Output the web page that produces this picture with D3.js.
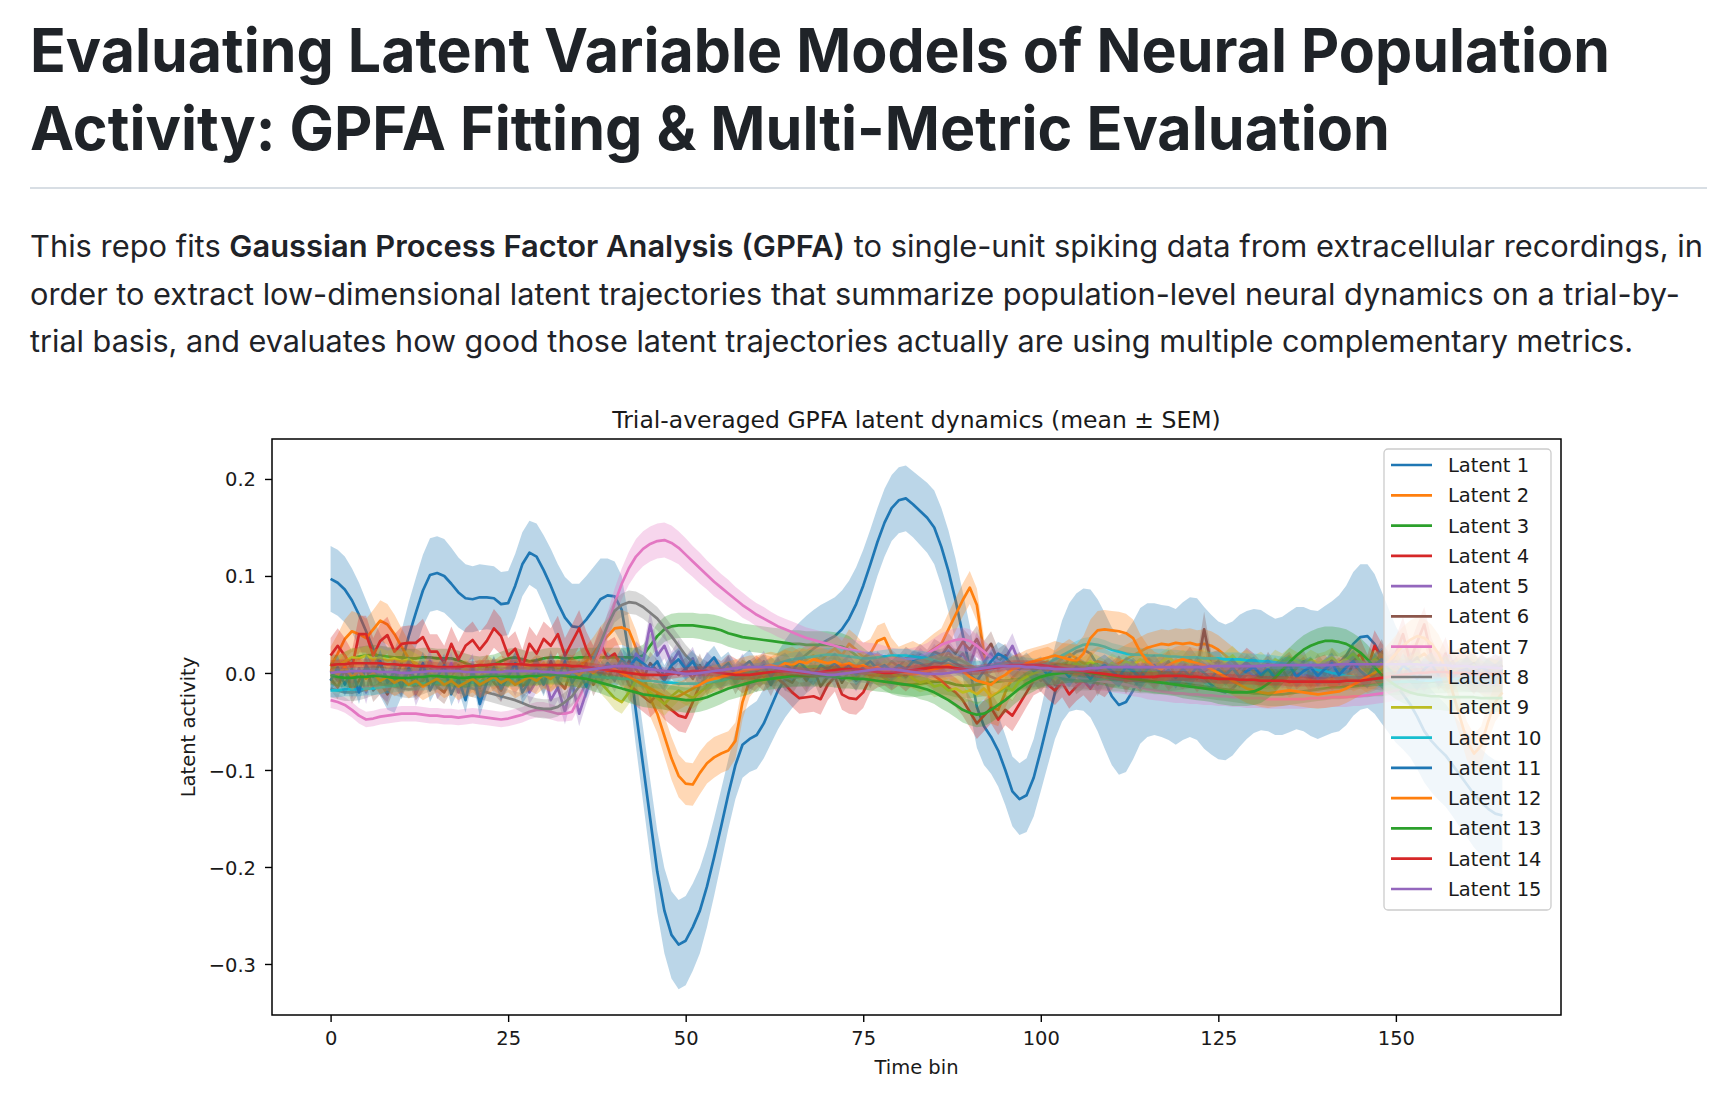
<!DOCTYPE html>
<html><head><meta charset="utf-8">
<script src="https://cdn.jsdelivr.net/npm/d3@7/dist/d3.min.js"></script>
<style>
html,body{margin:0;padding:0;background:#fff;}
svg{display:block;}
</style></head><body>
<svg id="page" width="1730" height="1096"></svg>
<script>
// ---------------- DATA ----------------
const latentNames = ["Latent 1","Latent 2","Latent 3","Latent 4","Latent 5","Latent 6","Latent 7","Latent 8","Latent 9","Latent 10","Latent 11","Latent 12","Latent 13","Latent 14","Latent 15"];
const xTicks = [0,25,50,75,100,125,150];
const yTicks = [-0.3,-0.2,-0.1,0.0,0.1,0.2];
const yTickLabels = ["\u22120.3","\u22120.2","\u22120.1","0.0","0.1","0.2"];

const latent1 = [.097,.093,.086,.075,.06,.043,.025,.008,-.006,-.008,
.01,.038,.062,.085,.101,.103,.1,.092,.083,.077,
.076,.078,.078,.077,.071,.072,.09,.112,.124,.12,
.106,.09,.072,.057,.048,.047,.055,.065,.076,.08,
.079,.065,.02,-.04,-.095,-.15,-.205,-.245,-.27,-.28,
-.276,-.262,-.245,-.22,-.19,-.158,-.125,-.095,-.074,-.068,
-.064,-.052,-.035,-.018,-.006,.004,.012,.019,.025,.03,
.034,.038,.045,.056,.071,.09,.112,.135,.155,.17,
.178,.18,.174,.167,.16,.15,.13,.105,.075,.04,
.005,-.035,-.055,-.066,-.08,-.1,-.122,-.13,-.126,-.108,
-.08,-.05,-.02,.002,.016,.022,.024,.02,.008,-.008,
-.024,-.033,-.03,-.018,-.003,.003,.004,.002,0,-.004,
.002,.006,.004,-.005,-.012,-.018,-.02,-.016,-.008,-.002,
.002,.003,0,-.004,-.003,.001,.005,.004,0,-.002,
.002,.006,.01,.018,.03,.037,.038,.03,.016,.002,
-.012,-.022,-.032,-.045,-.06,-.07,-.078,-.085,-.095,-.105,
-.115,-.125,-.133,-.14,-.145,-.147];
const sem1 = [.034,.034,.034,.033,.033,.032,.032,.032,.032,.033,
.034,.035,.036,.037,.038,.038,.038,.037,.036,.035,
.034,.034,.033,.033,.033,.033,.033,.033,.033,.034,
.036,.038,.04,.042,.044,.045,.045,.044,.042,.038,
.036,.035,.035,.036,.038,.04,.042,.044,.045,.046,
.046,.045,.044,.042,.04,.038,.036,.035,.034,.034,
.035,.036,.038,.04,.04,.04,.04,.04,.04,.04,
.04,.04,.04,.039,.038,.037,.036,.035,.035,.034,
.034,.034,.034,.035,.036,.038,.04,.042,.043,.044,
.044,.042,.04,.038,.037,.036,.036,.037,.038,.04,
.042,.045,.048,.052,.056,.06,.063,.066,.068,.07,
.071,.072,.072,.071,.07,.069,.068,.068,.069,.07,
.071,.072,.073,.073,.072,.071,.07,.069,.068,.066,
.064,.062,.06,.06,.061,.062,.063,.064,.065,.066,
.067,.068,.07,.072,.074,.075,.074,.072,.068,.064,
.06,.057,.055,.054,.053,.053,.053,.053,.053,.054,
.054,.055,.055,.055,.055,.055];

const latent2 = [.007,.02,.035,.043,.04,.036,.045,.054,.05,.04,
.027,.015,.008,.005,-.002,.003,-.005,.002,-.006,-.008,
-.01,-.004,.004,-.002,.003,0,-.005,.002,-.003,.004,
0,-.004,.002,.006,.003,.008,.012,.02,.03,.038,
.046,.047,.044,.026,0,-.026,-.042,-.065,-.088,-.106,
-.114,-.115,-.103,-.093,-.087,-.083,-.08,-.07,-.03,-.008,
0,.004,.002,.006,.01,.012,.008,.014,.018,.012,
.02,.025,.018,.03,.024,.016,.02,.033,.036,.02,
.012,.015,.018,.014,.02,.025,.03,.045,.06,.075,
.088,.07,.02,-.035,-.038,-.02,-.005,.002,.004,.008,
.01,.012,.008,.015,.02,.015,.01,.008,.012,.01,
.006,.01,.014,.018,.022,.026,.028,.03,.029,.031,
.03,.031,.029,.03,.028,.024,.018,.012,.006,0,
-.004,-.006,-.004,-.008,-.005,-.01,-.006,-.003,-.008,-.005,
-.002,-.006,-.003,.002,-.004,0,-.005,-.002,.003,-.003,
.002,.006,.01,.015,.02,.012,.005,-.002,.004,.008,
.006,.002,-.004,-.01,-.008,-.004];
const sem2 = [.02,.02,.02,.021,.021,.02,.02,.021,.021,.02,
.019,.018,.017,.016,.016,.015,.015,.015,.015,.015,
.015,.015,.015,.015,.015,.015,.015,.015,.015,.015,
.015,.015,.015,.015,.015,.015,.016,.017,.018,.018,
.018,.018,.018,.018,.018,.019,.02,.021,.022,.022,
.022,.022,.022,.021,.021,.02,.02,.019,.018,.017,
.016,.015,.015,.015,.015,.015,.015,.015,.015,.015,
.015,.015,.015,.015,.015,.015,.015,.016,.016,.016,
.015,.015,.015,.015,.015,.016,.016,.017,.017,.017,
.017,.017,.017,.017,.017,.016,.016,.015,.015,.015,
.015,.015,.015,.015,.015,.015,.015,.015,.015,.015,
.015,.015,.015,.015,.015,.015,.015,.015,.015,.015,
.015,.015,.015,.015,.015,.015,.015,.015,.015,.015,
.015,.015,.015,.015,.015,.015,.015,.015,.015,.015,
.015,.015,.015,.015,.015,.016,.016,.016,.017,.017,
.017,.018,.018,.018,.018,.018,.018,.018,.018,.018,
.018,.018,.018,.018,.018,.018];

const latent3 = [.01,.008,.012,.015,.017,.018,.019,.018,.017,.016,
.016,.015,.015,.016,.016,.015,.015,.015,.013,.01,
.008,.007,.008,.009,.012,.015,.016,.014,.012,.013,
.015,.016,.016,.015,.015,.016,.016,.016,.016,.016,
.016,.016,.016,.016,.018,.028,.038,.045,.048,.049,
.049,.049,.048,.047,.046,.044,.041,.039,.037,.036,
.035,.034,.033,.032,.031,.03,.03,.029,.029,.029,
.029,.028,.027,.024,.018,.012,.006,0,-.005,-.009,
-.011,-.012,-.012,-.011,-.01,-.009,-.009,-.01,-.012,-.013,
-.013,-.012,-.011,-.01,-.009,-.008,-.007,-.006,-.006,-.005,
-.004,-.003,-.002,-.002,-.002,-.003,-.004,-.005,-.006,-.006,
-.007,-.007,-.008,-.008,-.009,-.009,-.01,-.01,-.01,-.011,
-.011,-.012,-.013,-.014,-.015,-.016,-.017,-.018,-.019,-.02,
-.021,-.021,-.022,-.022,-.022,-.021,-.02,-.019,-.018,-.017,
-.016,-.015,-.015,-.014,-.014,-.013,-.013,-.012,-.012,-.011,
-.011,-.01,-.01,-.01,-.01,-.009,-.009,-.009,-.008,-.008,
-.008,-.008,-.008,-.008,-.008,-.008];
const sem3 = [.01,.01,.01,.01,.01,.01,.01,.01,.01,.01,
.01,.01,.01,.01,.01,.01,.01,.01,.01,.01,
.01,.01,.01,.01,.01,.01,.01,.01,.01,.01,
.01,.01,.01,.01,.01,.01,.01,.01,.01,.01,
.01,.01,.01,.01,.011,.012,.013,.013,.013,.013,
.013,.013,.013,.014,.014,.014,.014,.014,.014,.014,
.014,.014,.014,.014,.014,.014,.014,.014,.014,.014,
.014,.014,.014,.014,.014,.014,.014,.013,.013,.013,
.013,.013,.013,.013,.013,.013,.013,.013,.013,.013,
.013,.013,.013,.013,.012,.012,.012,.012,.012,.012,
.012,.012,.012,.012,.012,.012,.012,.012,.012,.012,
.012,.012,.012,.012,.012,.012,.012,.012,.012,.012,
.012,.012,.012,.012,.012,.012,.012,.012,.012,.012,
.012,.012,.012,.012,.012,.012,.012,.012,.012,.012,
.012,.012,.012,.012,.012,.012,.012,.012,.012,.012,
.012,.012,.012,.012,.012,.012,.012,.012,.012,.012,
.012,.012,.012,.012,.012,.012];

const latent4 = [.018,.028,.018,.005,.04,.04,.018,.033,.039,.022,
.03,.031,.031,.037,.022,.022,.01,.03,.014,.028,
.034,.024,.033,.046,.038,.018,.025,.006,.03,.02,
.035,.028,.04,.018,.032,.046,.025,.01,.03,.015,
.02,.006,-.012,-.018,-.024,-.03,-.022,-.032,-.038,-.044,
-.046,-.03,-.012,-.004,.002,-.003,.004,0,-.006,-.002,
.003,-.004,.002,-.006,-.012,-.02,-.026,-.025,-.024,-.027,
-.012,-.004,-.022,-.026,-.027,-.02,-.005,0,.002,-.003,
.002,-.004,.003,.006,.002,-.003,-.008,-.015,-.02,-.028,
-.04,-.052,-.044,-.036,-.048,-.038,-.044,-.032,-.02,-.008,
-.004,-.012,-.018,-.01,-.022,-.014,-.008,-.016,-.006,-.01,
-.002,.004,-.004,.002,-.006,.003,-.002,.005,-.004,.002,
-.003,.004,-.006,.002,.006,-.004,.003,-.005,.004,.012,
.006,-.002,.004,-.004,.002,.008,-.003,.003,-.006,.002,
.005,-.004,.002,.006,.012,.02,.004,.028,.015,.006,
.02,.04,.012,.032,.05,.018,.004,.02,-.004,.006,
.002,-.006,.004,-.002,.003,0];
const sem4 = [.018,.018,.018,.018,.019,.019,.018,.018,.019,.018,
.018,.018,.018,.019,.018,.018,.018,.018,.018,.018,
.019,.018,.018,.02,.019,.018,.018,.018,.018,.018,
.018,.018,.019,.018,.018,.019,.018,.018,.018,.018,
.017,.016,.016,.016,.016,.016,.016,.016,.016,.016,
.016,.016,.015,.015,.015,.015,.015,.015,.015,.015,
.015,.015,.015,.015,.015,.015,.016,.016,.016,.016,
.016,.015,.016,.016,.016,.016,.015,.015,.015,.015,
.015,.015,.015,.015,.015,.015,.015,.015,.015,.016,
.016,.016,.016,.016,.016,.016,.016,.016,.015,.015,
.015,.015,.015,.015,.015,.015,.015,.015,.015,.015,
.014,.014,.014,.014,.014,.014,.014,.014,.014,.014,
.014,.014,.014,.014,.014,.014,.014,.014,.014,.014,
.014,.014,.014,.014,.014,.014,.014,.014,.014,.014,
.014,.014,.014,.014,.015,.015,.015,.016,.016,.016,
.017,.018,.018,.018,.018,.018,.017,.017,.016,.016,
.016,.016,.016,.016,.016,.016];

const latent5 = [.002,-.008,.01,-.015,.005,-.02,.008,-.012,-.018,.004,
-.01,.006,-.022,-.005,.012,-.015,-.006,.01,-.02,-.004,
.008,-.025,-.01,.005,-.018,.002,-.012,.006,-.02,-.008,
.004,-.028,-.015,-.04,-.01,-.042,-.02,.002,-.01,.005,
-.008,.01,-.005,.02,.012,.05,.018,.028,.01,.022,
.005,.015,-.005,.01,.002,-.008,.006,-.004,.008,-.01,
.002,.012,-.004,.006,-.008,.003,.01,-.006,.004,-.002,
.008,-.005,.01,.002,-.008,.005,-.003,.012,.004,-.006,
.006,.01,.002,.015,.008,.018,.01,.022,.012,.02,
.008,.03,.012,.02,.004,.015,.028,.01,.002,-.004,
.004,-.006,.002,.008,-.002,.006,-.004,.003,-.008,.002,
.006,-.003,.004,-.006,.002,.008,-.002,.004,-.005,.003,
-.002,.006,-.004,.003,.008,-.003,.005,-.006,.002,.007,
-.004,.004,-.002,.006,-.005,.003,.008,-.002,.004,-.006,
.003,.008,-.003,.005,.012,-.004,.006,.002,-.005,.008,
.004,-.006,.01,.002,-.008,.006,-.002,.012,.003,-.004,
.006,.002,-.005,.004,.008,.001];
const sem5 = [.012,.012,.012,.012,.012,.012,.012,.012,.012,.012,
.012,.012,.012,.012,.012,.012,.012,.012,.012,.012,
.012,.012,.012,.012,.012,.012,.012,.012,.012,.012,
.012,.013,.013,.013,.013,.013,.012,.012,.012,.012,
.012,.012,.012,.013,.013,.014,.013,.013,.012,.012,
.012,.012,.012,.012,.012,.012,.012,.012,.012,.012,
.011,.011,.011,.011,.011,.011,.011,.011,.011,.011,
.011,.011,.011,.011,.011,.011,.011,.011,.011,.011,
.011,.011,.011,.011,.011,.012,.012,.012,.012,.012,
.012,.013,.012,.012,.012,.012,.013,.012,.012,.011,
.011,.011,.011,.011,.011,.011,.011,.011,.011,.011,
.011,.011,.011,.011,.011,.011,.011,.011,.011,.011,
.011,.011,.011,.011,.011,.011,.011,.011,.011,.011,
.011,.011,.011,.011,.011,.011,.011,.011,.011,.011,
.011,.011,.011,.011,.012,.012,.012,.012,.012,.012,
.012,.012,.012,.012,.012,.012,.012,.012,.012,.012,
.012,.012,.012,.012,.012,.012];

const latent6 = [-.006,-.015,.004,-.02,-.008,.006,-.018,-.01,-.022,-.004,
-.012,.002,-.016,-.008,.004,-.014,-.02,-.006,.008,-.012,
-.004,-.016,.006,-.01,-.018,-.002,.01,-.014,-.006,.004,
-.01,.012,-.008,-.016,.006,-.004,.01,-.012,.002,-.006,
.008,-.004,.012,.004,-.006,.01,.002,-.008,.006,-.002,
.004,-.006,.008,-.012,.002,-.004,.006,-.01,.002,-.004,
-.008,.002,-.012,.004,-.006,-.01,.002,-.008,.004,-.014,
-.004,.006,-.01,.002,-.006,.008,-.004,.01,.004,.012,
.006,.015,.01,.018,.012,.022,.018,.028,.02,.032,
.024,.035,.02,.03,.012,.018,.004,.01,-.004,.002,
-.008,.004,-.012,-.002,.006,-.01,-.004,.008,-.012,.002,
-.006,.006,-.01,.004,-.004,.01,-.008,.002,.012,-.004,
.006,.014,.004,.045,.008,.012,-.002,.006,-.004,.008,
.002,-.006,.01,-.002,.004,-.008,.006,.012,-.004,.008,
-.002,.014,.004,-.006,.01,.002,-.004,.008,.022,.006,
.012,-.004,.008,.016,.002,.01,-.006,.004,.012,-.002,
.006,.01,-.004,.004,.002,.008];
const sem6 = [.012,.012,.012,.012,.012,.012,.012,.012,.012,.012,
.012,.012,.012,.012,.012,.012,.012,.012,.012,.012,
.012,.012,.012,.012,.012,.012,.012,.012,.012,.012,
.012,.012,.012,.012,.012,.012,.012,.012,.012,.012,
.012,.012,.012,.012,.012,.012,.012,.012,.012,.012,
.012,.012,.012,.012,.012,.012,.012,.012,.012,.012,
.012,.012,.012,.012,.012,.012,.012,.012,.012,.012,
.012,.012,.012,.012,.012,.012,.012,.012,.012,.012,
.012,.012,.012,.012,.012,.013,.013,.013,.013,.014,
.014,.014,.013,.013,.013,.012,.012,.012,.012,.012,
.012,.012,.012,.012,.012,.012,.012,.012,.012,.012,
.012,.012,.012,.012,.012,.012,.012,.012,.012,.012,
.012,.013,.013,.018,.013,.012,.012,.012,.012,.012,
.012,.012,.012,.012,.012,.012,.012,.012,.012,.012,
.012,.012,.012,.012,.012,.012,.012,.012,.013,.012,
.012,.012,.012,.012,.012,.012,.012,.012,.012,.012,
.012,.012,.012,.012,.012,.012];

const latent7 = [-.028,-.03,-.033,-.038,-.044,-.048,-.047,-.045,-.044,-.043,
-.042,-.042,-.042,-.043,-.044,-.044,-.045,-.045,-.046,-.045,
-.044,-.045,-.046,-.047,-.048,-.047,-.045,-.043,-.04,-.038,
-.038,-.04,-.042,-.042,-.04,-.025,-.01,.005,.022,.048,
.072,.092,.108,.12,.128,.133,.136,.137,.134,.129,
.122,.115,.108,.101,.094,.088,.082,.076,.07,.065,
.06,.056,.052,.048,.045,.042,.039,.036,.034,.032,
.03,.028,.026,.024,.023,.021,.02,.019,.017,.015,
.014,.014,.015,.017,.02,.024,.029,.032,.034,.035,
.033,.028,.022,.016,.012,.008,.005,.003,.002,.001,
0,-.001,-.002,-.003,-.004,-.005,-.006,-.007,-.008,-.009,
-.01,-.011,-.012,-.014,-.015,-.017,-.018,-.019,-.02,-.021,
-.021,-.022,-.022,-.023,-.023,-.024,-.024,-.025,-.025,-.026,
-.026,-.026,-.027,-.027,-.027,-.027,-.027,-.027,-.026,-.026,
-.026,-.025,-.025,-.025,-.024,-.024,-.023,-.022,-.021,-.02,
-.018,-.015,-.01,-.004,.002,.006,.008,.006,.002,-.002,
-.006,-.008,-.01,-.011,-.012,-.012];
const sem7 = [.008,.008,.008,.008,.008,.008,.008,.008,.008,.008,
.008,.008,.008,.008,.008,.008,.008,.008,.008,.008,
.008,.008,.008,.008,.008,.008,.008,.008,.008,.008,
.008,.008,.008,.008,.009,.01,.011,.012,.013,.014,
.015,.016,.017,.018,.018,.018,.018,.018,.018,.017,
.017,.016,.016,.015,.015,.014,.014,.013,.013,.012,
.012,.012,.011,.011,.011,.011,.011,.011,.011,.011,
.011,.011,.011,.011,.011,.011,.011,.011,.011,.011,
.011,.011,.011,.011,.011,.012,.012,.012,.012,.012,
.012,.012,.011,.011,.011,.01,.01,.01,.01,.01,
.01,.01,.01,.01,.01,.01,.01,.01,.01,.01,
.01,.01,.01,.01,.01,.01,.01,.01,.01,.01,
.01,.01,.01,.01,.01,.01,.01,.01,.01,.01,
.01,.01,.01,.01,.01,.01,.01,.01,.01,.01,
.01,.01,.01,.01,.01,.01,.01,.01,.01,.01,
.011,.012,.013,.014,.015,.015,.014,.013,.012,.011,
.011,.011,.011,.011,.011,.011];

const latent8 = [-.016,-.018,-.02,-.02,-.019,-.017,-.014,-.012,-.012,-.014,
-.016,-.017,-.016,-.013,-.01,-.008,-.008,-.01,-.012,-.014,
-.016,-.018,-.02,-.022,-.024,-.026,-.028,-.031,-.034,-.036,
-.037,-.037,-.035,-.03,-.024,-.014,-.002,.015,.031,.049,
.064,.07,.073,.072,.068,.062,.056,.047,.038,.028,
.018,.011,.006,.002,-.001,-.003,-.004,-.005,-.004,-.003,
-.002,-.002,-.003,-.004,-.005,-.005,-.004,-.003,-.002,-.001,
0,.001,.002,.002,.001,0,-.001,-.002,-.003,-.003,
-.002,0,.003,.006,.01,.013,.015,.016,.015,.012,
.008,.004,0,-.004,-.007,-.008,-.008,-.007,-.006,-.005,
-.004,-.004,-.005,-.006,-.007,-.008,-.008,-.008,-.007,-.006,
-.005,-.004,-.004,-.005,-.006,-.007,-.008,-.009,-.009,-.008,
-.007,-.006,-.005,-.004,-.004,-.005,-.006,-.007,-.008,-.008,
-.008,-.007,-.006,-.005,-.005,-.006,-.007,-.008,-.009,-.01,
-.01,-.01,-.009,-.008,-.007,-.006,-.006,-.007,-.008,-.009,
-.01,-.01,-.009,-.008,-.007,-.006,-.006,-.006,-.007,-.008,
-.009,-.01,-.01,-.01,-.01,-.01];
const sem8 = [.009,.009,.009,.009,.009,.009,.009,.009,.009,.009,
.009,.009,.009,.009,.009,.009,.009,.009,.009,.009,
.009,.009,.009,.009,.009,.009,.009,.01,.01,.01,
.01,.01,.01,.01,.01,.011,.011,.012,.012,.012,
.012,.012,.012,.012,.012,.012,.012,.012,.011,.011,
.011,.01,.01,.01,.01,.01,.01,.01,.01,.01,
.01,.01,.01,.01,.01,.01,.01,.01,.01,.01,
.01,.01,.01,.01,.01,.01,.01,.01,.01,.01,
.01,.01,.01,.01,.01,.01,.01,.01,.01,.01,
.01,.01,.01,.01,.01,.01,.01,.01,.01,.01,
.01,.01,.01,.01,.01,.01,.01,.01,.01,.01,
.01,.01,.01,.01,.01,.01,.01,.01,.01,.01,
.01,.01,.01,.01,.01,.01,.01,.01,.01,.01,
.01,.01,.01,.01,.01,.01,.01,.01,.01,.01,
.01,.01,.01,.01,.01,.01,.01,.01,.01,.01,
.01,.01,.01,.01,.01,.01,.01,.01,.01,.01,
.01,.01,.01,.01,.01,.01];

const latent9 = [.002,.008,.012,.016,.015,.018,.014,.016,.013,.015,
.012,.014,.01,.006,.002,-.004,.003,-.006,.001,.004,
-.003,.005,-.002,.006,0,-.005,.004,-.002,.005,-.004,
.002,-.006,.004,0,-.008,.003,-.004,.002,-.01,-.018,
-.026,-.03,-.02,-.008,-.012,-.02,-.026,-.032,-.024,-.018,
-.022,-.026,-.02,-.014,-.008,-.004,.002,-.003,.004,0,
.005,-.002,.006,.002,.008,.004,.01,.006,.002,.008,
.004,.01,.006,0,.005,.008,.002,-.003,.004,0,
-.004,.002,-.006,-.01,-.008,-.014,-.012,-.018,-.016,-.02,
-.018,-.022,-.016,-.024,-.02,-.014,-.018,-.008,-.004,0,
.003,.006,.002,.008,.005,.01,.006,.012,.008,.004,
.01,.006,.012,.008,.014,.01,.006,.012,.016,.01,
.014,.008,.012,.016,.01,.006,.012,.018,.01,.014,
.008,.012,.006,.014,.01,.016,.012,.008,.014,.01,
.012,.016,.01,.014,.02,.012,.008,.014,.01,.006,
.01,.004,.008,.012,.006,.01,.004,.008,.002,.006,
.004,.008,.002,.006,.004,.002];
const sem9 = [.01,.01,.01,.01,.01,.01,.01,.01,.01,.01,
.01,.01,.01,.01,.01,.01,.01,.01,.01,.01,
.01,.01,.01,.01,.01,.01,.01,.01,.01,.01,
.01,.01,.01,.01,.01,.01,.01,.01,.011,.011,
.012,.012,.012,.011,.011,.012,.012,.012,.012,.011,
.011,.011,.011,.011,.01,.01,.01,.01,.01,.01,
.01,.01,.01,.01,.01,.01,.01,.01,.01,.01,
.01,.01,.01,.01,.01,.01,.01,.01,.01,.01,
.01,.01,.01,.01,.01,.011,.011,.011,.011,.011,
.011,.011,.011,.011,.011,.011,.011,.01,.01,.01,
.01,.01,.01,.01,.01,.01,.01,.01,.01,.01,
.01,.01,.01,.01,.01,.01,.01,.01,.01,.01,
.01,.01,.01,.01,.01,.01,.01,.01,.01,.01,
.01,.01,.01,.01,.01,.01,.01,.01,.01,.01,
.01,.01,.01,.01,.01,.01,.01,.01,.01,.01,
.01,.01,.01,.01,.01,.01,.01,.01,.01,.01,
.01,.01,.01,.01,.01,.01];

const latent10 = [-.018,-.018,-.017,-.017,-.017,-.016,-.016,-.015,-.014,-.013,
-.012,-.012,-.011,-.011,-.01,-.01,-.01,-.009,-.009,-.01,
-.01,-.009,-.008,-.007,-.006,-.006,-.005,-.005,-.004,-.004,
-.004,-.003,-.003,-.002,-.002,-.002,-.003,-.004,-.004,-.005,
-.005,-.006,-.006,-.007,-.008,-.008,-.009,-.01,-.01,-.011,
-.011,-.011,-.011,-.01,-.009,-.008,-.006,-.004,-.002,0,
.003,.005,.008,.01,.012,.014,.015,.016,.017,.018,
.019,.019,.018,.017,.016,.015,.015,.016,.017,.018,
.018,.018,.017,.016,.015,.013,.011,.009,.007,.006,
.005,.005,.006,.007,.009,.01,.01,.01,.009,.008,
.008,.01,.014,.018,.022,.026,.029,.03,.029,.027,
.024,.022,.02,.019,.019,.018,.018,.018,.017,.017,
.016,.016,.016,.015,.015,.015,.014,.014,.014,.013,
.013,.012,.012,.011,.01,.009,.008,.006,.005,.003,
.002,0,-.001,-.003,-.004,-.005,-.006,-.007,-.008,-.008,
-.009,-.009,-.009,-.009,-.008,-.008,-.007,-.006,-.006,-.005,
-.005,-.004,-.004,-.004,-.004,-.004];
const sem10 = [.007,.007,.007,.007,.007,.007,.007,.007,.007,.007,
.007,.007,.007,.007,.007,.007,.007,.007,.007,.007,
.007,.007,.007,.007,.007,.007,.007,.007,.007,.007,
.007,.007,.007,.007,.007,.007,.007,.007,.007,.007,
.007,.007,.007,.007,.007,.007,.007,.007,.007,.007,
.007,.007,.007,.007,.007,.007,.007,.007,.007,.007,
.007,.007,.007,.007,.007,.007,.007,.007,.007,.007,
.007,.007,.007,.007,.007,.007,.007,.007,.007,.007,
.007,.007,.007,.007,.007,.007,.007,.007,.007,.007,
.007,.007,.007,.007,.007,.007,.007,.007,.007,.007,
.007,.007,.007,.007,.007,.007,.007,.007,.007,.007,
.007,.007,.007,.007,.007,.007,.007,.007,.007,.007,
.007,.007,.007,.007,.007,.007,.007,.007,.007,.007,
.007,.007,.007,.007,.007,.007,.007,.007,.007,.007,
.007,.007,.007,.007,.007,.007,.007,.007,.007,.007,
.007,.007,.007,.007,.007,.007,.007,.007,.007,.007,
.007,.007,.007,.007,.007,.007];

const latent11 = [-.008,.006,-.012,.004,-.02,.008,-.004,.012,-.01,.002,
-.015,.005,-.008,.01,-.018,-.004,.008,-.022,-.006,-.028,
.004,-.032,-.01,.006,-.016,-.004,.01,-.02,-.008,.004,
-.012,.008,-.006,.012,-.01,.002,-.014,.006,-.002,.01,
.002,.014,.006,.015,.01,.004,.012,-.004,.008,.014,
.004,.012,-.002,.008,.016,.004,.01,-.002,.006,.012,
.002,.008,-.004,.006,.01,.002,.012,.004,-.002,.008,
.004,.01,.002,.008,-.002,.006,.012,.004,.008,.002,
.008,.004,.012,.01,.006,.012,.01,.014,.01,.006,
-.002,-.008,.002,.012,.02,.016,.008,.004,.01,.002,
.006,-.002,.008,.004,-.004,.006,.002,-.006,.004,.008,
.002,-.004,.006,.002,-.006,.004,.008,-.002,.003,-.005,
.004,-.003,.006,0,-.006,.004,-.002,.005,-.004,.002,
.006,-.002,.004,-.005,.003,.008,-.004,.002,.006,-.003,
.004,.01,-.002,.006,.012,.002,-.004,.008,.014,.004,
-.004,.008,.002,-.006,.004,.01,-.002,.006,-.004,.002,
.004,-.002,.006,.002,-.003,.004];
const sem11 = [.012,.012,.012,.012,.012,.012,.012,.012,.012,.012,
.012,.012,.012,.012,.012,.012,.012,.012,.012,.013,
.012,.013,.012,.012,.012,.012,.012,.012,.012,.012,
.012,.012,.012,.012,.012,.012,.012,.012,.012,.012,
.012,.012,.012,.012,.012,.012,.012,.012,.012,.012,
.012,.012,.012,.012,.012,.012,.012,.012,.012,.012,
.011,.011,.011,.011,.011,.011,.011,.011,.011,.011,
.011,.011,.011,.011,.011,.011,.011,.011,.011,.011,
.011,.011,.011,.011,.011,.011,.011,.011,.011,.011,
.011,.011,.011,.012,.012,.012,.011,.011,.011,.011,
.011,.011,.011,.011,.011,.011,.011,.011,.011,.011,
.011,.011,.011,.011,.011,.011,.011,.011,.011,.011,
.011,.011,.011,.011,.011,.011,.011,.011,.011,.011,
.011,.011,.011,.011,.011,.011,.011,.011,.011,.011,
.011,.011,.011,.011,.012,.012,.012,.012,.012,.012,
.012,.012,.012,.012,.012,.012,.012,.012,.012,.012,
.012,.012,.012,.012,.012,.012];

const latent12 = [.004,-.002,.006,-.004,.002,-.006,0,-.008,-.004,-.01,
-.006,-.012,-.008,-.014,-.01,-.006,-.012,-.008,-.014,-.01,
-.006,-.012,-.008,-.004,-.01,-.006,-.012,-.008,-.004,-.008,
-.002,-.006,0,-.004,.002,-.002,.004,0,.006,.002,
.004,0,-.004,-.008,-.012,-.016,-.02,-.024,-.026,-.024,
-.02,-.016,-.012,-.008,-.006,-.004,-.002,0,.002,.004,
.004,.006,.008,.006,.01,.008,.012,.01,.014,.012,
.01,.012,.008,.01,.006,.008,.004,.006,.002,.004,
.002,0,-.002,0,.002,.004,.006,.008,.004,.002,
-.004,-.008,-.01,-.012,-.006,-.002,.004,.006,.01,.012,
.014,.016,.018,.016,.014,.012,.02,.036,.044,.045,
.044,.043,.041,.036,.022,.012,.006,.004,.008,.012,
.014,.012,.01,.008,.004,0,-.004,-.008,-.012,-.016,
-.018,-.02,-.021,-.02,-.019,-.018,-.019,-.02,-.021,-.022,
-.021,-.02,-.019,-.016,-.012,-.008,-.004,0,.006,.012,
.02,.028,.034,.038,.036,.03,.02,.005,-.02,-.045,
-.07,-.083,-.075,-.05,-.03,-.02];
const sem12 = [.014,.014,.014,.014,.014,.014,.014,.014,.014,.014,
.014,.014,.014,.014,.014,.014,.014,.014,.014,.014,
.014,.014,.014,.014,.014,.014,.014,.014,.014,.014,
.014,.014,.014,.014,.014,.014,.014,.014,.014,.014,
.014,.014,.014,.014,.014,.014,.014,.014,.014,.014,
.014,.014,.014,.014,.014,.014,.014,.014,.014,.014,
.014,.014,.014,.014,.014,.014,.014,.014,.014,.014,
.014,.014,.014,.014,.014,.014,.014,.014,.014,.014,
.014,.014,.014,.014,.014,.014,.014,.014,.014,.014,
.014,.014,.014,.014,.014,.014,.014,.014,.014,.014,
.014,.014,.015,.015,.016,.017,.018,.019,.02,.02,
.02,.02,.02,.019,.018,.017,.016,.015,.015,.015,
.015,.015,.015,.015,.015,.015,.015,.015,.015,.015,
.015,.015,.015,.015,.015,.015,.015,.015,.015,.015,
.015,.015,.015,.015,.015,.015,.015,.016,.017,.018,
.019,.02,.02,.02,.02,.02,.02,.02,.02,.02,
.02,.02,.02,.02,.02,.02];

const latent13 = [-.002,-.004,-.005,-.005,-.004,-.004,-.003,-.003,-.004,-.005,
-.005,-.005,-.004,-.004,-.003,-.003,-.004,-.004,-.005,-.005,
-.004,-.004,-.003,-.003,-.003,-.004,-.004,-.004,-.003,-.003,
-.002,-.002,-.002,-.003,-.004,-.005,-.006,-.008,-.01,-.012,
-.014,-.016,-.018,-.02,-.022,-.023,-.024,-.025,-.026,-.027,
-.028,-.028,-.027,-.025,-.022,-.019,-.016,-.014,-.012,-.01,
-.008,-.007,-.006,-.005,-.004,-.003,-.003,-.003,-.003,-.003,
-.003,-.004,-.005,-.005,-.006,-.006,-.007,-.008,-.009,-.01,
-.011,-.012,-.013,-.015,-.017,-.02,-.024,-.028,-.033,-.038,
-.041,-.043,-.042,-.038,-.033,-.028,-.022,-.016,-.011,-.007,
-.004,-.002,-.001,0,.001,.001,.001,0,-.001,-.002,
-.003,-.004,-.005,-.006,-.007,-.008,-.009,-.01,-.011,-.012,
-.013,-.014,-.015,-.016,-.017,-.018,-.019,-.02,-.02,-.02,
-.019,-.016,-.011,-.005,.003,.011,.018,.024,.028,.031,
.033,.033,.032,.03,.026,.021,.014,.006,-.002,-.008,
-.013,-.017,-.02,-.022,-.023,-.024,-.024,-.025,-.025,-.025,
-.025,-.025,-.026,-.026,-.026,-.026];
const sem13 = [.01,.01,.01,.01,.01,.01,.01,.01,.01,.01,
.01,.01,.01,.01,.01,.01,.01,.01,.01,.01,
.01,.01,.01,.01,.01,.01,.01,.01,.01,.01,
.01,.01,.01,.01,.01,.01,.01,.011,.011,.012,
.012,.012,.013,.013,.013,.013,.013,.013,.013,.013,
.013,.013,.013,.013,.013,.013,.012,.012,.012,.012,
.011,.011,.011,.011,.011,.011,.011,.011,.011,.011,
.011,.011,.011,.011,.011,.011,.011,.011,.011,.011,
.011,.011,.011,.012,.012,.012,.013,.013,.013,.013,
.013,.013,.013,.013,.013,.013,.012,.012,.012,.012,
.011,.011,.011,.011,.011,.011,.011,.011,.011,.011,
.012,.012,.012,.012,.012,.012,.012,.012,.012,.012,
.013,.013,.013,.013,.013,.014,.014,.014,.014,.014,
.014,.015,.015,.015,.015,.015,.015,.015,.015,.015,
.015,.015,.015,.015,.015,.015,.015,.014,.014,.014,
.014,.014,.014,.014,.014,.014,.014,.014,.014,.014,
.014,.014,.014,.014,.014,.014];

const latent14 = [.008,.009,.009,.01,.01,.01,.01,.01,.009,.009,
.008,.008,.007,.007,.007,.006,.006,.006,.006,.007,
.007,.008,.008,.009,.009,.009,.009,.009,.008,.008,
.008,.008,.008,.008,.007,.007,.006,.005,.004,.003,
.002,.001,0,-.001,-.002,-.002,-.002,-.002,-.001,0,
.001,.002,.002,.002,.001,0,-.001,-.002,-.002,-.002,
-.001,0,.001,.002,.002,.002,.001,0,0,.001,
.002,.003,.004,.004,.004,.003,.002,.001,0,0,
.001,.002,.003,.004,.005,.006,.006,.006,.005,.004,
.003,.003,.004,.005,.006,.007,.008,.008,.008,.008,
.008,.007,.006,.005,.004,.003,.002,.001,0,-.001,
-.002,-.003,-.004,-.004,-.004,-.004,-.004,-.003,-.003,-.003,
-.003,-.004,-.004,-.005,-.005,-.006,-.006,-.006,-.007,-.007,
-.007,-.008,-.008,-.008,-.008,-.009,-.009,-.009,-.009,-.009,
-.009,-.009,-.009,-.008,-.008,-.008,-.007,-.006,-.005,-.004,
-.003,-.002,-.001,0,0,.001,.001,.001,0,0,
0,-.001,-.001,-.001,-.001,-.001];
const sem14 = [.005,.005,.005,.005,.005,.005,.005,.005,.005,.005,
.005,.005,.005,.005,.005,.005,.005,.005,.005,.005,
.005,.005,.005,.005,.005,.005,.005,.005,.005,.005,
.005,.005,.005,.005,.005,.005,.005,.005,.005,.005,
.005,.005,.005,.005,.005,.005,.005,.005,.005,.005,
.005,.005,.005,.005,.005,.005,.005,.005,.005,.005,
.005,.005,.005,.005,.005,.005,.005,.005,.005,.005,
.005,.005,.005,.005,.005,.005,.005,.005,.005,.005,
.005,.005,.005,.005,.005,.005,.005,.005,.005,.005,
.005,.005,.005,.005,.005,.005,.005,.005,.005,.005,
.005,.005,.005,.005,.005,.005,.005,.005,.005,.005,
.005,.005,.005,.005,.005,.005,.005,.005,.005,.005,
.005,.005,.005,.005,.005,.005,.005,.005,.005,.005,
.005,.005,.005,.005,.005,.005,.005,.005,.005,.005,
.005,.005,.005,.005,.005,.005,.005,.005,.005,.005,
.005,.005,.005,.005,.005,.005,.005,.005,.005,.005,
.005,.005,.005,.005,.005,.005];

const latent15 = [0,.001,.001,.002,.002,.002,.002,.001,.001,.001,
0,0,.001,.001,.002,.002,.002,.002,.002,.001,
.001,.001,.001,.001,.001,.002,.002,.002,.002,.002,
.001,.001,0,0,.001,.002,.003,.004,.005,.006,
.007,.007,.007,.006,.005,.004,.003,.002,.001,0,
-.001,-.001,0,.001,.002,.003,.004,.005,.006,.006,
.006,.006,.006,.005,.004,.003,.002,.001,0,-.001,
-.002,-.002,-.001,0,.001,.002,.003,.004,.004,.004,
.003,.002,.001,0,-.001,-.001,-.001,0,.001,.002,
.003,.004,.005,.006,.007,.007,.007,.007,.006,.006,
.005,.005,.004,.004,.004,.004,.004,.005,.005,.006,
.006,.006,.006,.006,.006,.006,.006,.006,.006,.006,
.006,.006,.006,.006,.007,.007,.007,.007,.007,.007,
.007,.007,.008,.008,.008,.008,.008,.008,.008,.008,
.008,.008,.009,.009,.009,.009,.009,.009,.009,.009,
.009,.009,.009,.009,.008,.008,.008,.008,.007,.007,
.007,.006,.006,.006,.005,.005];
const sem15 = [.004,.004,.004,.004,.004,.004,.004,.004,.004,.004,
.004,.004,.004,.004,.004,.004,.004,.004,.004,.004,
.004,.004,.004,.004,.004,.004,.004,.004,.004,.004,
.004,.004,.004,.004,.004,.004,.004,.004,.004,.004,
.004,.004,.004,.004,.004,.004,.004,.004,.004,.004,
.004,.004,.004,.004,.004,.004,.004,.004,.004,.004,
.004,.004,.004,.004,.004,.004,.004,.004,.004,.004,
.004,.004,.004,.004,.004,.004,.004,.004,.004,.004,
.004,.004,.004,.004,.004,.004,.004,.004,.004,.004,
.004,.004,.004,.004,.004,.004,.004,.004,.004,.004,
.004,.004,.004,.004,.004,.004,.004,.004,.004,.004,
.004,.004,.004,.004,.004,.004,.004,.004,.004,.004,
.004,.004,.004,.004,.004,.004,.004,.004,.004,.004,
.004,.004,.004,.004,.004,.004,.004,.004,.004,.004,
.004,.004,.004,.004,.004,.004,.004,.004,.004,.004,
.004,.004,.004,.004,.004,.004,.004,.004,.004,.004,
.004,.004,.004,.004,.004,.004];

const means = [latent1,latent2,latent3,latent4,latent5,latent6,latent7,latent8,latent9,latent10,latent11,latent12,latent13,latent14,latent15];
const sems  = [sem1,sem2,sem3,sem4,sem5,sem6,sem7,sem8,sem9,sem10,sem11,sem12,sem13,sem14,sem15];

// ---------------- PAGE TEXT ----------------
const svg = d3.select("#page");
const INK = "#1f2328";
const SANS = "Inter, 'Noto Sans', 'Liberation Sans', sans-serif";

function fitText(sel, width){
  sel.attr("textLength", width).attr("lengthAdjust", "spacingAndGlyphs");
}

const h1Lines = ["Evaluating Latent Variable Models of Neural Population",
                 "Activity: GPFA Fitting & Multi-Metric Evaluation"];
const h1Base = [72, 150];
const h1Widths = [1580, 1360];
h1Lines.forEach((t,i)=>{
  const el = svg.append("text").attr("x",30).attr("y",h1Base[i])
    .attr("font-family",SANS).attr("font-weight",700).attr("font-size",61)
    .attr("fill",INK).text(t);
  fitText(el, h1Widths[i]);
});
svg.append("rect").attr("x",30).attr("y",187).attr("width",1677).attr("height",2).attr("fill","#d8dee4");

const pLines = [
  [["This repo fits ",400],["Gaussian Process Factor Analysis (GPFA)",600],[" to single-unit spiking data from extracellular recordings, in",400]],
  [["order to extract low-dimensional latent trajectories that summarize population-level neural dynamics on a trial-by-",400]],
  [["trial basis, and evaluates how good those latent trajectories actually are using multiple complementary metrics.",400]]
];
const pBase = [257, 305, 352];
const pWidths = [1673, 1650, 1603];
pLines.forEach((segs,i)=>{
  const el = svg.append("text").attr("x",30).attr("y",pBase[i])
    .attr("font-family",SANS).attr("font-size",30).attr("fill",INK);
  segs.forEach(s=> el.append("tspan").attr("font-weight",s[1]).text(s[0]));
  fitText(el, pWidths[i]);
});

// ---------------- CHART ----------------
const CF = "'DejaVu Sans', sans-serif";
const TXT = "#1a1a1a";
const plot = {left:272, right:1561, top:439, bottom:1015};
const x = d3.scaleLinear().domain([-8.25, 173.25]).range([plot.left, plot.right]);
const y = d3.scaleLinear().domain([-0.3526, 0.2412]).range([plot.bottom, plot.top]);
const palette = d3.schemeCategory10;

svg.append("defs").append("clipPath").attr("id","clip")
  .append("rect").attr("x",plot.left).attr("y",plot.top)
  .attr("width",plot.right-plot.left).attr("height",plot.bottom-plot.top);

const gData = svg.append("g").attr("clip-path","url(#clip)");
means.forEach((m,k)=>{
  const s = sems[k];
  const col = palette[k % 10];
  const area = d3.area().x((d,i)=>x(i)).y0((d,i)=>y(m[i]-s[i])).y1((d,i)=>y(m[i]+s[i]));
  gData.append("path").datum(m).attr("d",area).attr("fill",col).attr("fill-opacity",0.3);
  const line = d3.line().x((d,i)=>x(i)).y(d=>y(d));
  gData.append("path").datum(m).attr("d",line).attr("fill","none")
    .attr("stroke",col).attr("stroke-width",2.7).attr("stroke-linejoin","round");
});

// axes
const gx = svg.append("g").attr("transform",`translate(0,${plot.bottom})`)
  .call(d3.axisBottom(x).tickValues(xTicks).tickSize(7).tickFormat(d3.format("d")));
gx.select(".domain").remove();
gx.selectAll(".tick line").attr("stroke","#000").attr("stroke-width",1.4);
gx.selectAll(".tick text").attr("y",30).attr("dy",0).attr("font-family",CF)
  .attr("font-size",19.5).attr("fill",TXT);

const gy = svg.append("g").attr("transform",`translate(${plot.left},0)`)
  .call(d3.axisLeft(y).tickValues(yTicks).tickSize(7).tickFormat((d,i)=>yTickLabels[i]));
gy.select(".domain").remove();
gy.selectAll(".tick line").attr("stroke","#000").attr("stroke-width",1.4);
gy.selectAll(".tick text").attr("x",-16).attr("dy","0.36em").attr("font-family",CF)
  .attr("font-size",19.5).attr("fill",TXT);

svg.append("rect").attr("x",plot.left).attr("y",plot.top)
  .attr("width",plot.right-plot.left).attr("height",plot.bottom-plot.top)
  .attr("fill","none").attr("stroke","#000").attr("stroke-width",1.5);

// titles
svg.append("text").attr("x",(plot.left+plot.right)/2).attr("y",428)
  .attr("text-anchor","middle").attr("font-family",CF).attr("font-size",23.5)
  .attr("fill",TXT).text("Trial-averaged GPFA latent dynamics (mean \u00b1 SEM)");
svg.append("text").attr("x",(plot.left+plot.right)/2).attr("y",1074)
  .attr("text-anchor","middle").attr("font-family",CF).attr("font-size",19.5)
  .attr("fill",TXT).text("Time bin");
svg.append("text").attr("transform",`translate(195,${(plot.top+plot.bottom)/2}) rotate(-90)`)
  .attr("text-anchor","middle").attr("font-family",CF).attr("font-size",19.5)
  .attr("fill",TXT).text("Latent activity");

// legend
const lg = svg.append("g");
lg.append("rect").attr("x",1384).attr("y",449).attr("width",167).attr("height",461)
  .attr("rx",4).attr("fill","#fff").attr("fill-opacity",0.8)
  .attr("stroke","#cccccc").attr("stroke-width",1.3);
const rowY = d3.scaleLinear().domain([0,14]).range([465,889]);
latentNames.forEach((name,k)=>{
  const cy = rowY(k);
  lg.append("line").attr("x1",1391).attr("x2",1432).attr("y1",cy).attr("y2",cy)
    .attr("stroke",palette[k%10]).attr("stroke-width",2.7);
  lg.append("text").attr("x",1448).attr("y",cy+7).attr("font-family",CF)
    .attr("font-size",19.5).attr("fill",TXT).text(name);
});
</script>
</body></html>
